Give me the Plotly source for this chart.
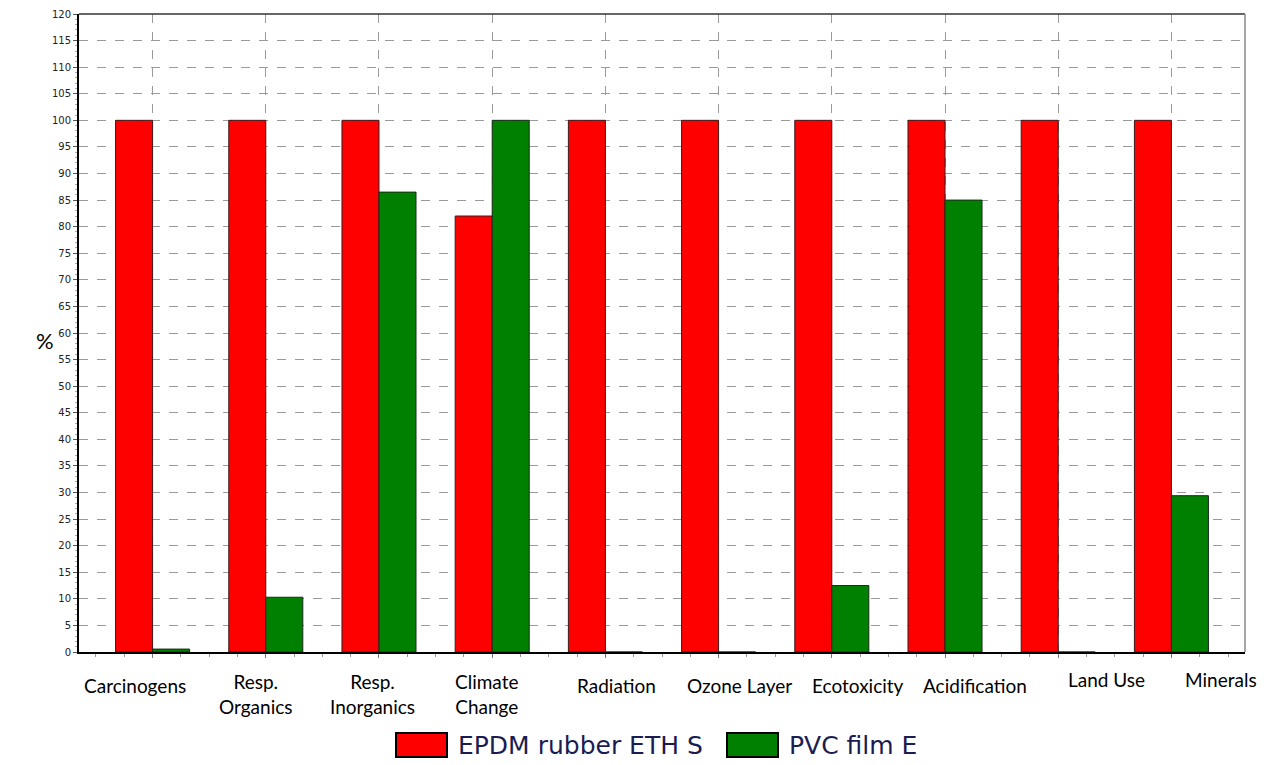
import plotly.graph_objects as go

categories = ['Carcinogens', 'Resp.<br>Organics', 'Resp.<br>Inorganics', 'Climate<br>Change',
              'Radiation', 'Ozone Layer', 'Ecotoxicity', 'Acidification', 'Land Use', 'Minerals']
epdm = [100, 100, 100, 82.0, 100, 100, 100, 100, 100, 100]
pvc = [0.55, 10.3, 86.5, 100, 0, 0, 12.5, 85.0, 0, 29.4]
series_names = ['EPDM rubber ETH S', 'PVC film E']
series_colors = ['#ff0000', '#008000']
y_ticks = list(range(0, 125, 5))

# label offsets (px) to mimic the original placement of the category names
label_xshift = [-18, -10, -6, -6, 11, 21, 26, 30, 48, 50]
label_yshift = [-20, -16, -16, -16, -20, -20, -20, -20, -14, -14]

# the page body keeps an 8px margin, so the figure is a bit smaller than the window
OFF = 8
W, H = 1265, 757
L, R, T, B = 71, 28, 6, 113
pw, ph = W - L - R, H - T - B


def px(x, y):
    # screen pixel position -> paper coordinates
    return (x - OFF - L) / pw, (H - B - (y - OFF)) / ph


xs = list(range(len(categories)))

fig = go.Figure()
fig.add_trace(go.Bar(x=xs, y=epdm, name=series_names[0], showlegend=False,
                     marker=dict(color=series_colors[0], line=dict(color='#3a1a1a', width=1))))
fig.add_trace(go.Bar(x=xs, y=pvc, name=series_names[1], showlegend=False,
                     marker=dict(color=series_colors[1], line=dict(color='#1a2a1a', width=1))))

annotations = []
for i, c in enumerate(categories):
    annotations.append(dict(x=i, y=0, xref='x', yref='paper', text=c,
                            showarrow=False, xshift=label_xshift[i], yshift=label_yshift[i],
                            yanchor='top',
                            font=dict(family='Lato, Open Sans, sans-serif', size=19, color='black')))
mx, my = px(45, 340)
annotations.append(dict(x=mx, y=my, xref='paper', yref='paper', text='%', showarrow=False,
                        xanchor='center', yanchor='middle',
                        font=dict(family='Lato, sans-serif', size=22, color='black')))

shapes = [
    dict(type='line', xref='paper', yref='paper', x0=0, x1=1, y0=1, y1=1,
         line=dict(color='#333', width=1.5)),
    dict(type='line', xref='paper', yref='paper', x0=1, x1=1, y0=0, y1=1,
         line=dict(color='#888', width=1.5)),
]

# hand-drawn legend with the wide boxes of the original
legend_box_x = [396, 727]
for i, name in enumerate(series_names):
    x0, y0 = px(legend_box_x[i], 733)
    x1, y1 = px(legend_box_x[i] + 51, 757)
    shapes.append(dict(type='rect', xref='paper', yref='paper', x0=x0, x1=x1, y0=y0, y1=y1,
                       fillcolor=series_colors[i], line=dict(color='black', width=2)))
    tx, ty = px(legend_box_x[i] + 60, 745)
    annotations.append(dict(x=tx, y=ty, xref='paper', yref='paper', text=name, showarrow=False,
                            xanchor='left', yanchor='middle',
                            font=dict(family='DejaVu Sans, sans-serif', size=25, color='#1c1c50')))

fig.update_layout(
    width=W, height=H,
    margin=dict(l=L, r=R, t=T, b=B, autoexpand=False),
    plot_bgcolor='white', paper_bgcolor='white',
    barmode='group', bargap=0.346, bargroupgap=0,
    showlegend=False,
    xaxis=dict(range=[-0.65, 9.65], tickvals=xs, ticktext=['' for _ in xs],
               showgrid=True, gridcolor='#9a9a9a', griddash='dash', gridwidth=1,
               showline=True, linecolor='black', linewidth=2, mirror=False,
               ticks='outside', ticklen=4, tickcolor='#777',
               minor=dict(dtick=0.25, tick0=0, ticks='outside', ticklen=3, tickcolor='#999'),
               zeroline=False),
    yaxis=dict(range=[0, 120], tickvals=y_ticks, showgrid=True, gridcolor='#9a9a9a',
               griddash='dash', gridwidth=1, showline=True, linecolor='black', linewidth=2,
               ticks='outside', ticklen=4, tickcolor='#555',
               minor=dict(dtick=1, ticks='outside', ticklen=2, tickcolor='#aaa'),
               tickfont=dict(family='DejaVu Sans, sans-serif', size=10, color='#222'),
               zeroline=False),
    annotations=annotations,
    shapes=shapes,
)

fig.write_html('out.html')
